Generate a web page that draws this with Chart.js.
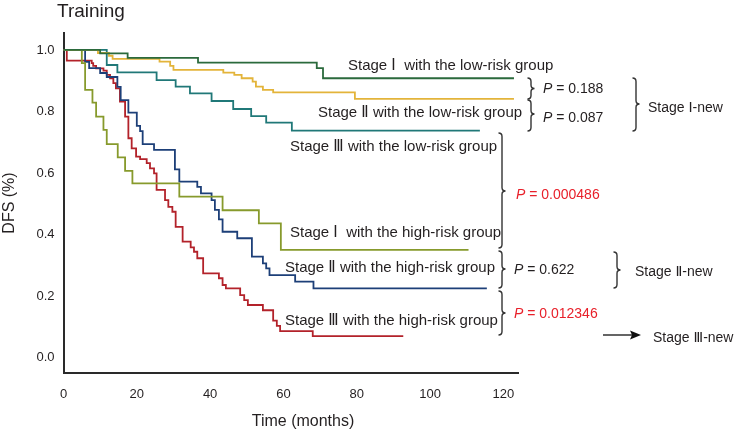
<!DOCTYPE html>
<html>
<head>
<meta charset="utf-8">
<script src="https://cdn.jsdelivr.net/npm/chart.js@4.4.0/dist/chart.umd.min.js"></script>
<style>
  html, body { margin: 0; padding: 0; background: #fff; }
  #wrap { width: 745px; height: 433px; position: relative; }
</style>
</head>
<body>
<div id="wrap"><canvas id="km"></canvas></div>
<script>
// tick labels
const xTicks = [0, 20, 40, 60, 80, 100, 120];
const yTicks = [0.0, 0.2, 0.4, 0.6, 0.8, 1.0];

// Kaplan-Meier steps (time in months, DFS fraction)
const s1LowTime = [0, 10.0, 17.5, 36.7, 69.1, 70.8, 122.9];
const s1LowDFS  = [1, 0.989, 0.974, 0.959, 0.941, 0.908, 0.908];

const s2LowTime = [0, 9.4, 12.4, 13.4, 26.2, 29.1, 30.0, 43.6, 46.6, 48.6, 51.6, 52.5, 54.4, 57.2, 79.5, 122.9];
const s2LowDFS  = [1, 0.990, 0.981, 0.971, 0.962, 0.948, 0.935, 0.926, 0.919, 0.908, 0.897, 0.881, 0.870, 0.862, 0.841, 0.841];

const s3LowTime = [0, 11.8, 14.7, 25.4, 30.6, 34.5, 40.4, 46.3, 51.2, 55.3, 62.3, 113.6];
const s3LowDFS  = [1, 0.951, 0.927, 0.902, 0.881, 0.859, 0.834, 0.808, 0.785, 0.764, 0.738, 0.738];

const s1HighTime = [0, 5.0, 5.9, 7.9, 8.9, 10.9, 11.8, 14.8, 16.8, 18.8, 31.6, 43.4, 53.3, 59.3, 110.5];
const s1HighDFS  = [1, 0.957, 0.870, 0.829, 0.783, 0.740, 0.694, 0.651, 0.607, 0.566, 0.523, 0.479, 0.436, 0.350, 0.350];

const s2HighTime = [0, 5.9, 7.0, 10.0, 11.8, 14.7, 15.6, 17.7, 20.0, 20.9, 21.6, 24.7, 30.4, 31.6, 36.5, 37.5,
                    40.4, 41.3, 42.4, 43.4, 47.4, 51.4, 54.4, 55.3, 56.2, 63.2, 68.2, 115.5];
const s2HighDFS  = [1, 0.961, 0.941, 0.925, 0.912, 0.880, 0.837, 0.796, 0.753, 0.736, 0.694, 0.675, 0.612, 0.572, 0.555, 0.534,
                    0.512, 0.480, 0.449, 0.409, 0.388, 0.328, 0.306, 0.290, 0.268, 0.247, 0.225, 0.225];

const s3HighTime = [0, 0.9, 7.7, 8.1, 8.9, 10.9, 11.8, 12.7, 13.6, 14.3, 15.4, 16.8, 17.7, 18.6, 19.8, 20.9, 22.7, 23.6,
                    24.7, 25.4, 27.7, 28.6, 29.7, 30.6, 32.5, 34.7, 35.6, 36.5, 38.1, 42.4, 43.4, 44.3, 48.2, 49.3,
                    50.3, 54.4, 57.2, 58.2, 59.1, 68.0, 92.7];
const s3HighDFS  = [1, 0.965, 0.957, 0.948, 0.940, 0.933, 0.919, 0.908, 0.892, 0.875, 0.832, 0.783, 0.713, 0.680, 0.653, 0.645, 0.632, 0.615,
                    0.599, 0.545, 0.512, 0.490, 0.474, 0.425, 0.377, 0.358, 0.344, 0.323, 0.274, 0.258, 0.236, 0.225, 0.203, 0.187,
                    0.171, 0.154, 0.120, 0.103, 0.086, 0.070, 0.070];

const TEXT = '#231f20';
const FONT = '"Liberation Sans", Arial, "DejaVu Sans", sans-serif';

function curve(times, dfs, color) {
  return {
    data: times.map((t, i) => ({ x: t, y: dfs[i] })),
    borderColor: color,
    borderWidth: 1.8,
    pointRadius: 0,
    stepped: 'before',
    fill: false
  };
}

function brace(ctx, x, y1, y2, yt) {
  const r = 3.5;
  ctx.beginPath();
  ctx.moveTo(x - r, y1);
  ctx.quadraticCurveTo(x, y1, x, y1 + r);
  ctx.lineTo(x, yt - r);
  ctx.quadraticCurveTo(x, yt, x + r, yt);
  ctx.quadraticCurveTo(x, yt, x, yt + r);
  ctx.lineTo(x, y2 - r);
  ctx.quadraticCurveTo(x, y2, x - r, y2);
  ctx.stroke();
}

function pText(ctx, x, y, value, color) {
  ctx.fillStyle = color;
  ctx.font = 'italic 14px ' + FONT;
  ctx.fillText('P', x, y);
  const w = ctx.measureText('P').width;
  ctx.font = '14px ' + FONT;
  ctx.fillText(' = ' + value, x + w, y);
}

const annotate = {
  id: 'annotate',
  afterDraw(chart) {
    const ctx = chart.ctx;
    ctx.save();
    ctx.textBaseline = 'middle';
    ctx.textAlign = 'left';

    ctx.fillStyle = TEXT;
    ctx.font = '19px ' + FONT;
    ctx.fillText('Training', 57, 12);

    // x axis title, centred where the original puts it
    ctx.font = '16px ' + FONT;
    ctx.textAlign = 'center';
    ctx.fillText('Time (months)', 303, 422);
    ctx.textAlign = 'left';

    ctx.font = '15px ' + FONT;
    ctx.fillText('Stage \u2160  with the low-risk group', 348, 66);
    ctx.fillText('Stage \u2161 with the low-risk group', 318, 113);
    ctx.fillText('Stage \u2162 with the low-risk group', 290, 147);
    ctx.fillText('Stage \u2160  with the high-risk group', 290, 233);
    ctx.fillText('Stage \u2161 with the high-risk group', 285, 268);
    ctx.fillText('Stage \u2162 with the high-risk group', 285, 321);

    ctx.strokeStyle = '#333';
    ctx.lineWidth = 1.4;
    brace(ctx, 531, 78, 99, 88.5);
    brace(ctx, 531, 100, 131, 114);
    brace(ctx, 636, 78, 131, 104);
    brace(ctx, 502, 133, 248, 191);
    brace(ctx, 502, 251, 288, 269);
    brace(ctx, 617, 252, 288, 270);
    brace(ctx, 502, 291, 335, 313);

    pText(ctx, 543, 89, '0.188', TEXT);
    pText(ctx, 543, 118, '0.087', TEXT);
    pText(ctx, 516, 195, '0.000486', '#e8202a');
    pText(ctx, 514, 270, '0.622', TEXT);
    pText(ctx, 514, 314, '0.012346', '#e8202a');

    ctx.fillStyle = TEXT;
    ctx.font = '14px ' + FONT;
    ctx.fillText('Stage \u2160-new', 648, 108);
    ctx.fillText('Stage \u2161-new', 635, 272);
    ctx.fillText('Stage \u2162-new', 653, 338);

    // arrow to Stage III-new
    ctx.strokeStyle = '#111';
    ctx.lineWidth = 1.3;
    ctx.beginPath();
    ctx.moveTo(603, 335);
    ctx.lineTo(632, 335);
    ctx.stroke();
    ctx.fillStyle = '#111';
    ctx.beginPath();
    ctx.moveTo(641, 335);
    ctx.lineTo(630, 330.5);
    ctx.lineTo(632, 335);
    ctx.lineTo(630, 339.5);
    ctx.closePath();
    ctx.fill();
    ctx.restore();
  }
};

new Chart(document.getElementById('km'), {
  type: 'line',
  data: {
    datasets: [
      curve(s1LowTime, s1LowDFS, '#2b6a3c'),
      curve(s2LowTime, s2LowDFS, '#e3b43a'),
      curve(s3LowTime, s3LowDFS, '#207878'),
      curve(s1HighTime, s1HighDFS, '#879a2c'),
      curve(s2HighTime, s2HighDFS, '#1d3f78'),
      curve(s3HighTime, s3HighDFS, '#b3222a')
    ]
  },
  options: {
    responsive: true,
    maintainAspectRatio: false,
    animation: false,
    layout: { padding: { left: 0, right: 227, top: 33, bottom: 0 } },
    plugins: {
      legend: { display: false },
      tooltip: { enabled: false }
    },
    scales: {
      x: {
        type: 'linear',
        min: 0,
        max: 124,
        afterBuildTicks: (scale) => { scale.ticks = xTicks.map(v => ({ value: v })); },
        afterFit: (scale) => { scale.height = 60; },
        grid: { display: false, drawTicks: false },
        border: { display: true, color: '#2a2a2a', width: 2 },
        ticks: { padding: 14, color: TEXT, font: { family: FONT, size: 13 }, maxRotation: 0 },
        title: { display: false }
      },
      y: {
        type: 'linear',
        min: -0.05,
        max: 1.055,
        afterBuildTicks: (scale) => { scale.ticks = yTicks.map(v => ({ value: v })); },
        afterFit: (scale) => { scale.width = 63.5; },
        grid: { display: false, drawTicks: false },
        border: { display: true, color: '#2a2a2a', width: 2 },
        ticks: { padding: 9, color: TEXT, font: { family: FONT, size: 13 }, callback: (v) => v.toFixed(1) },
        title: { display: true, text: 'DFS (%)', color: TEXT, font: { family: FONT, size: 16 }, padding: { top: 0 } }
      }
    }
  },
  plugins: [annotate]
});
</script>
</body>
</html>
